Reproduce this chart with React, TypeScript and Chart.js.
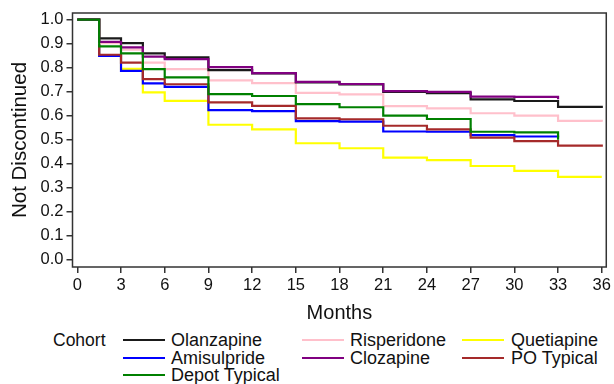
import React, { useEffect, useRef } from "react";
import { Chart, registerables } from "chart.js";

Chart.register(...registerables);

// ---- Data (Kaplan–Meier style step values) ----
const months = [0, 1.5, 3, 4.5, 6, 9, 12, 15, 18, 21, 24, 27, 30, 33, 36];

const olanzapine = [1.0, 0.922, 0.902, 0.86, 0.843, 0.79, 0.776, 0.739, 0.73, 0.699, 0.694, 0.668, 0.661, 0.637, 0.632];
const risperidone = [1.0, 0.902, 0.875, 0.821, 0.794, 0.747, 0.736, 0.695, 0.689, 0.64, 0.63, 0.61, 0.6, 0.578, 0.575];
const quetiapine = [1.0, 0.849, 0.795, 0.697, 0.662, 0.562, 0.543, 0.485, 0.464, 0.425, 0.415, 0.39, 0.37, 0.345, 0.345];
const amisulpride = [1.0, 0.849, 0.787, 0.735, 0.72, 0.623, 0.619, 0.577, 0.575, 0.534, 0.533, 0.519, 0.513, 0.51, null];
const clozapine = [1.0, 0.908, 0.885, 0.846, 0.836, 0.802, 0.777, 0.741, 0.732, 0.702, 0.699, 0.679, 0.678, 0.668, null];
const poTypical = [1.0, 0.854, 0.821, 0.752, 0.731, 0.655, 0.641, 0.589, 0.585, 0.558, 0.543, 0.508, 0.494, 0.475, 0.47];
const depotTypical = [1.0, 0.889, 0.86, 0.794, 0.76, 0.69, 0.682, 0.648, 0.635, 0.6, 0.586, 0.533, 0.53, 0.5, null];

const xTickValues = [0, 3, 6, 9, 12, 15, 18, 21, 24, 27, 30, 33, 36];
const yTickValues = [0, 0.1, 0.2, 0.3, 0.4, 0.5, 0.6, 0.7, 0.8, 0.9, 1.0];

const xTitle = "Months";
const yTitle = "Not Discontinued";
const legendTitle = "Cohort";

// legend order (row-major, 3 columns) with drawing z-order (lower = on top)
const series = [
  { label: "Olanzapine", values: olanzapine, color: "#1a1a1a", z: 2 },
  { label: "Risperidone", values: risperidone, color: "#ffc0cb", z: 3 },
  { label: "Quetiapine", values: quetiapine, color: "#ffff00", z: 6 },
  { label: "Amisulpride", values: amisulpride, color: "#0000ff", z: 5 },
  { label: "Clozapine", values: clozapine, color: "#800080", z: 1 },
  { label: "PO Typical", values: poTypical, color: "#a52a2a", z: 4 },
  { label: "Depot Typical", values: depotTypical, color: "#008000", z: 0 },
];

const FONT = "'Liberation Sans', Arial, Helvetica, sans-serif";
const CANVAS_W = 614;
const CANVAS_H = 330;
const AREA = { left: 72.5, top: 13, right: 606.5, bottom: 267 };

const framePlugin = {
  id: "frame",
  afterDatasetsDraw(chart: any) {
    const { ctx, chartArea: a } = chart;
    ctx.save();
    ctx.strokeStyle = "#333";
    ctx.lineWidth = 1.5;
    ctx.strokeRect(a.left, a.top, a.right - a.left, a.bottom - a.top);
    ctx.restore();
  },
};

export default function App() {
  const ref = useRef<HTMLCanvasElement | null>(null);

  useEffect(() => {
    if (!ref.current) return;
    const datasets = series.map((s) => ({
      label: s.label,
      data: months
        .map((m, i) => ({ x: m, y: s.values[i] }))
        .filter((p) => p.y !== null && p.y !== undefined),
      borderColor: s.color,
      backgroundColor: s.color,
      borderWidth: 2.2,
      pointRadius: 0,
      stepped: true,
      fill: false,
      order: s.z,
    }));

    const chart = new Chart(ref.current, {
      type: "line",
      data: { datasets },
      plugins: [framePlugin],
      options: {
        animation: false,
        responsive: false,
        maintainAspectRatio: false,
        layout: {
          padding: { left: 0, top: AREA.top, right: CANVAS_W - AREA.right, bottom: 0 },
        },
        plugins: {
          legend: { display: false },
          tooltip: { enabled: false },
        },
        scales: {
          x: {
            type: "linear",
            min: -0.33,
            max: 36.31,
            afterFit: (scale: any) => {
              scale.height = CANVAS_H - AREA.bottom;
            },
            afterBuildTicks: (scale: any) => {
              scale.ticks = xTickValues.map((v) => ({ value: v }));
            },
            border: { display: false },
            grid: {
              display: true,
              drawOnChartArea: false,
              drawTicks: true,
              tickLength: 6,
              color: "#333",
              lineWidth: 1.5,
            },
            ticks: {
              autoSkip: false,
              maxRotation: 0,
              padding: 3,
              color: "#111",
              font: { family: FONT, size: 16.5 },
              callback: (v: any) => String(v),
            },
            title: {
              display: true,
              text: xTitle,
              color: "#111",
              font: { family: FONT, size: 20 },
              padding: { top: 0, bottom: 5 },
            },
          },
          y: {
            type: "linear",
            min: -0.031,
            max: 1.028,
            afterFit: (scale: any) => {
              scale.width = AREA.left;
            },
            afterBuildTicks: (scale: any) => {
              scale.ticks = yTickValues.map((v) => ({ value: v }));
            },
            border: { display: false },
            grid: {
              display: true,
              drawOnChartArea: false,
              drawTicks: true,
              tickLength: 6,
              color: "#333",
              lineWidth: 1.5,
            },
            ticks: {
              autoSkip: false,
              padding: 3,
              color: "#111",
              font: { family: FONT, size: 16.5 },
              callback: (v: any) => Number(v).toFixed(1),
            },
            title: {
              display: true,
              text: yTitle,
              color: "#111",
              font: { family: FONT, size: 20.5 },
              padding: { top: 8, bottom: 0 },
            },
          },
        },
      },
    });
    return () => chart.destroy();
  }, []);

  const colLineX = [123, 302, 462];
  const colTextX = [171, 350, 511];
  const rowY = [340, 357.5, 375];

  return (
    <div
      style={{
        position: "absolute",
        left: 0,
        top: 0,
        width: CANVAS_W,
        height: 384,
        background: "#fff",
        fontFamily: FONT,
        overflow: "hidden",
      }}
    >
      <canvas
        ref={ref}
        width={CANVAS_W}
        height={CANVAS_H}
        style={{ position: "absolute", left: 0, top: 0, width: CANVAS_W, height: CANVAS_H }}
      />
      <div
        style={{
          position: "absolute",
          left: 53,
          top: rowY[0] - 10,
          fontSize: 17.5,
          lineHeight: "20px",
          color: "#111",
          whiteSpace: "nowrap",
        }}
      >
        {legendTitle}
      </div>
      {series.map((s, i) => {
        const col = i % 3;
        const row = Math.floor(i / 3);
        return (
          <React.Fragment key={s.label}>
            <div
              style={{
                position: "absolute",
                left: colLineX[col],
                top: rowY[row] - 1,
                width: 42,
                height: 2,
                background: s.color,
              }}
            />
            <div
              style={{
                position: "absolute",
                left: colTextX[col],
                top: rowY[row] - 10,
                fontSize: 18,
                lineHeight: "20px",
                color: "#111",
                whiteSpace: "nowrap",
              }}
            >
              {s.label}
            </div>
          </React.Fragment>
        );
      })}
    </div>
  );
}
